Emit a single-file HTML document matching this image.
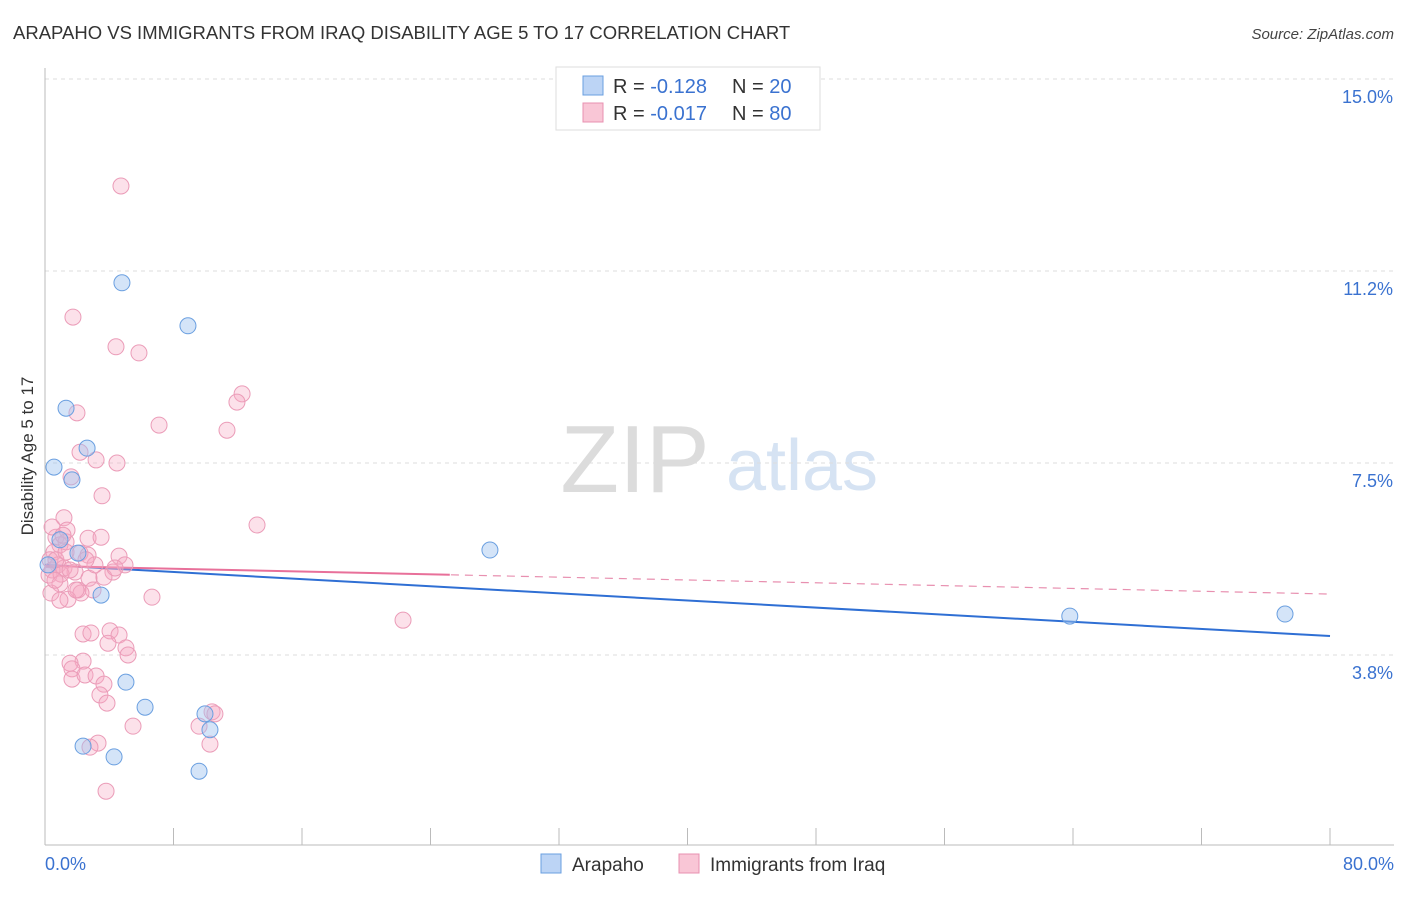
<!DOCTYPE html>
<html><head><meta charset="utf-8"><style>
body{margin:0;background:#fff;font-family:"Liberation Sans",sans-serif;}
svg text{font-family:"Liberation Sans",sans-serif;}
</style></head><body>
<svg id="chart" width="1406" height="892" xmlns="http://www.w3.org/2000/svg">
<text x="13" y="39" font-size="18.5" fill="#333">ARAPAHO VS IMMIGRANTS FROM IRAQ DISABILITY AGE 5 TO 17 CORRELATION CHART</text>
<text x="1394" y="39" font-size="15" fill="#444" text-anchor="end" font-style="italic">Source: ZipAtlas.com</text>
<text transform="translate(33,456) rotate(-90)" font-size="17" fill="#333" text-anchor="middle">Disability Age 5 to 17</text>
<g>
<text x="635" y="492" font-size="96" fill="#dcdcdc" text-anchor="middle" font-family="Liberation Serif, serif">ZIP</text>
<text x="802" y="490" font-size="72" fill="#d6e3f3" text-anchor="middle">atlas</text>
</g>
<g id="grid"></g><g id="axes"></g><g id="trends"></g><g id="points"></g>
<g>
<rect x="556" y="67" width="264" height="63" fill="#fff" stroke="#ddd"/>
<rect x="583" y="76" width="20" height="19" fill="#bcd4f5" stroke="#6a9fe0"/>
<rect x="583" y="103" width="20" height="19" fill="#f9c6d6" stroke="#e890b0"/>
<text x="613" y="93" font-size="20" fill="#333">R = <tspan fill="#3a72d0">-0.128</tspan></text>
<text x="732" y="93" font-size="20" fill="#333">N = <tspan fill="#3a72d0">20</tspan></text>
<text x="613" y="120" font-size="20" fill="#333">R = <tspan fill="#3a72d0">-0.017</tspan></text>
<text x="732" y="120" font-size="20" fill="#333">N = <tspan fill="#3a72d0">80</tspan></text>
</g>
<g>
<rect x="541" y="854" width="20" height="19" fill="#bcd4f5" stroke="#6a9fe0"/>
<text x="572" y="871" font-size="19" fill="#333">Arapaho</text>
<rect x="679" y="854" width="20" height="19" fill="#f9c6d6" stroke="#e890b0"/>
<text x="710" y="871" font-size="19" fill="#333">Immigrants from Iraq</text>
</g>
</svg>
<script>
const yTicks=[15.0,11.25,7.5,3.75];
const yTickLabels=["15.0%","11.2%","7.5%","3.8%"];
const xTickLabels=["0.0%","80.0%"];
const blueX=[4.79,8.9,1.31,2.62,0.56,1.68,2.05,3.49,5.04,6.23,9.96,10.27,2.37,4.3,9.59,27.7,63.8,77.2,0.19,0.93];
const blueY=[11.02,10.18,8.57,7.79,7.42,7.17,5.74,4.92,3.22,2.73,2.6,2.29,1.97,1.76,1.48,5.8,4.51,4.55,5.51,6.0];
const pinkX=[4.73,1.74,4.42,5.85,12.27,11.95,1.99,7.1,11.33,2.18,3.18,4.48,1.62,3.55,13.2,1.18,1.37,0.68,0.93,0.56,2.68,3.49,1.31,2.18,2.68,4.61,0.31,0.81,1.18,4.98,0.44,1.87,4.23,0.25,1.0,2.74,3.67,0.93,0.37,2.05,2.99,2.24,1.43,6.66,22.29,2.37,2.86,4.05,4.61,3.92,5.04,5.17,2.37,1.56,1.68,1.68,2.49,3.18,3.67,3.42,3.86,10.4,10.58,9.59,5.48,10.27,3.3,2.8,3.8,0.44,0.68,1.12,1.56,3.11,0.62,1.31,1.93,4.36,0.93,2.55];
const pinkY=[12.91,10.35,9.77,9.65,8.85,8.69,8.48,8.24,8.14,7.71,7.56,7.5,7.23,6.86,6.29,6.43,6.19,6.05,5.9,5.76,6.03,6.05,5.96,5.74,5.7,5.68,5.61,5.51,5.45,5.51,5.41,5.37,5.37,5.31,5.33,5.25,5.27,5.14,4.96,5.02,5.02,4.96,4.84,4.88,4.43,4.16,4.18,4.22,4.14,3.98,3.89,3.75,3.63,3.59,3.48,3.28,3.36,3.34,3.18,2.97,2.81,2.64,2.6,2.36,2.36,2.01,2.03,1.95,1.09,6.25,5.61,6.09,5.41,5.51,5.21,5.76,5.02,5.45,4.82,5.61];
const blueTrend=[5.51,4.12];
const pinkTrend=[5.49,4.94];
const pinkSolidEnd=25.2;
const NS="http://www.w3.org/2000/svg";
const X=v=>45+v/80*1285, Y=v=>79+(15-v)*51.2;
function mk(tag,attrs,parent){const e=document.createElementNS(NS,tag);for(const k in attrs)e.setAttribute(k,attrs[k]);document.getElementById(parent).appendChild(e);return e;}
yTicks.forEach((t,i)=>{
 const l=mk('line',{x1:45,x2:1394,y1:Y(t),y2:Y(t),stroke:'#ddd','stroke-dasharray':'4,4'},'grid');
 
 
 const tx=mk('text',{x:1393,y:Y(t)+24,'font-size':18,fill:'#3a72d0','text-anchor':'end'},'grid');
 tx.textContent=yTickLabels[i];
 
 
});
const ax=mk('line',{x1:45,x2:45,y1:68,y2:845,stroke:'#bbb'},'axes');


const bx=mk('line',{x1:45,x2:1394,y1:845,y2:845,stroke:'#bbb'},'axes');


for(let i=0;i<=10;i++){const t=mk('line',{x1:X(i*8),x2:X(i*8),y1:828,y2:845,stroke:'#bbb'},'axes');
 
 }
[[0,'start',45],[80,'end',1394]].forEach((d,i)=>{const t=mk('text',{x:d[2],y:870,'font-size':18,fill:'#3a72d0','text-anchor':d[1]},'axes');t.textContent=xTickLabels[i];
 
 });
const pm=v=>pinkTrend[0]+(pinkTrend[1]-pinkTrend[0])*v/80;
let l1=mk('line',{x1:X(0),y1:Y(pinkTrend[0]),x2:X(80),y2:Y(pinkTrend[1]),stroke:'#e890b0','stroke-width':1.2,'stroke-dasharray':'8,6'},'trends');


let l3=mk('line',{x1:X(0),y1:Y(blueTrend[0]),x2:X(80),y2:Y(blueTrend[1]),stroke:'#2f6fd4','stroke-width':2},'trends');


let l2=mk('line',{x1:X(0),y1:Y(pinkTrend[0]),x2:X(pinkSolidEnd),y2:Y(pm(pinkSolidEnd)),stroke:'#e8709a','stroke-width':2},'trends');


pinkX.forEach((x,i)=>{const c=mk('circle',{cx:X(x),cy:Y(pinkY[i]),r:8,fill:'rgba(246,170,196,0.35)',stroke:'#eb9cb8','stroke-width':1},'points');
 
 });
blueX.forEach((x,i)=>{const c=mk('circle',{cx:X(x),cy:Y(blueY[i]),r:8,fill:'rgba(160,196,240,0.45)',stroke:'#6a9fe0','stroke-width':1},'points');
 
 });
</script>
</body></html>
